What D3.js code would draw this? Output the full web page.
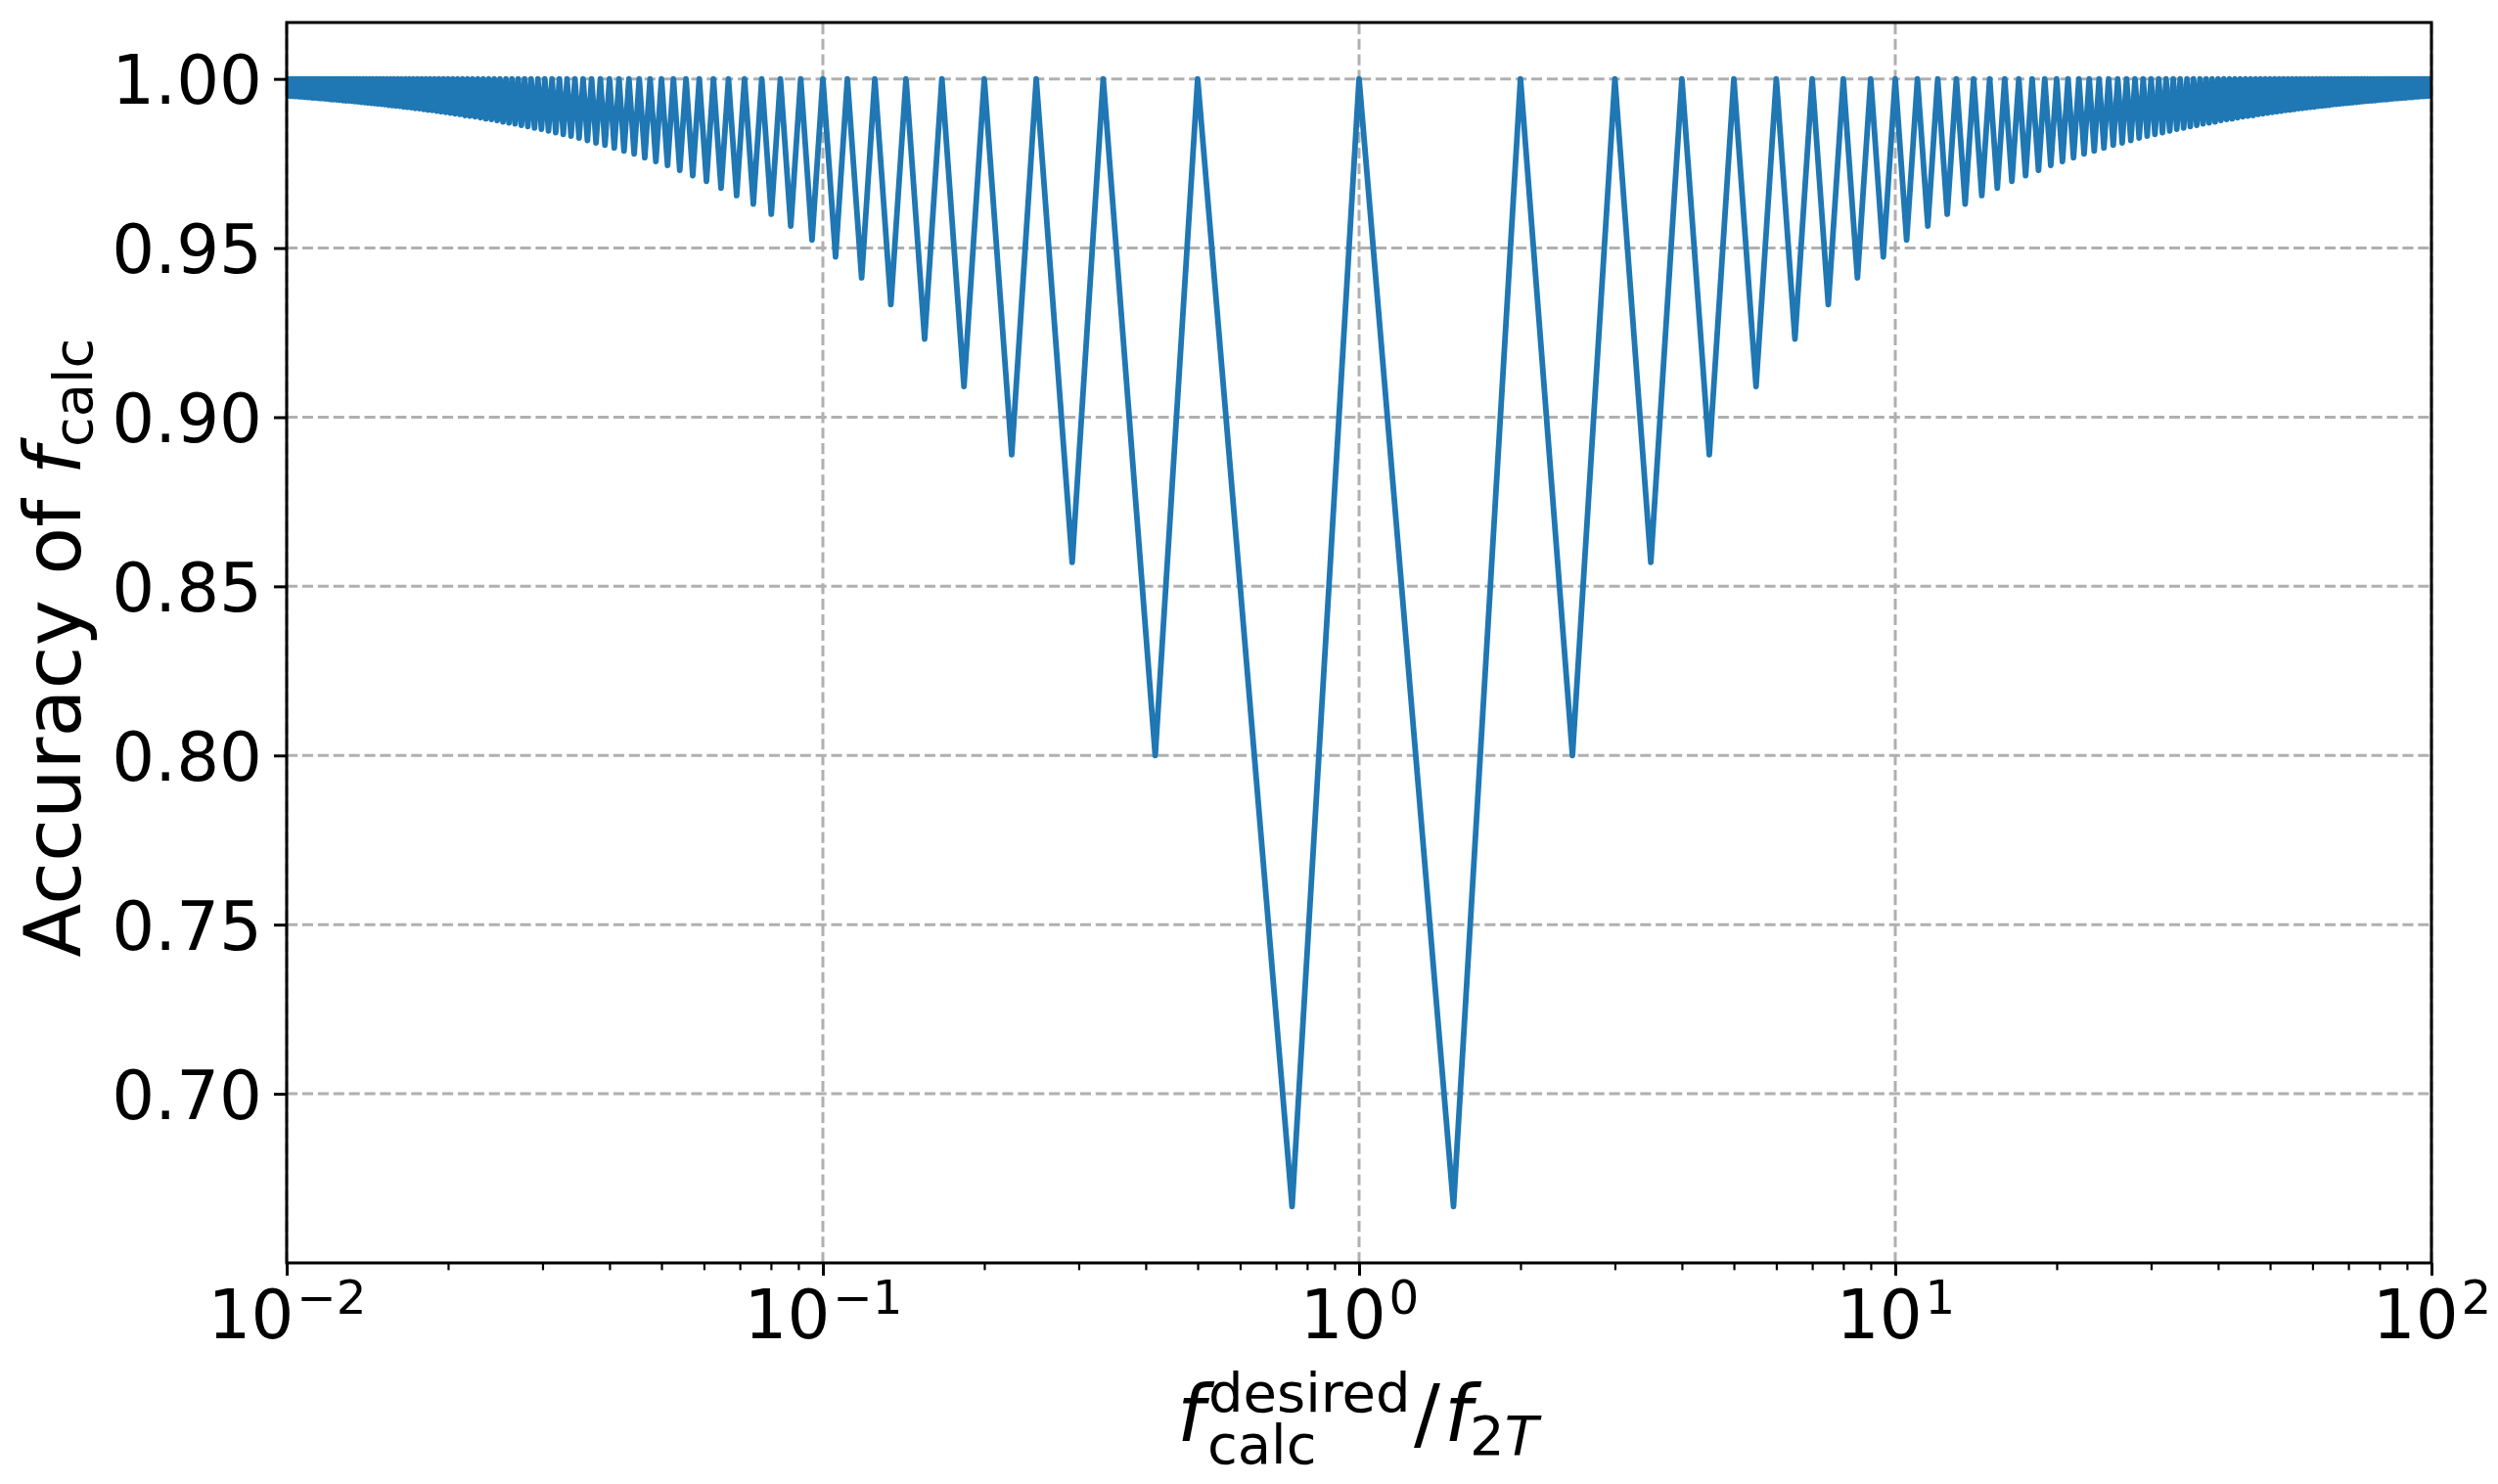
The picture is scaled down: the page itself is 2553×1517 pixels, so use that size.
<!DOCTYPE html>
<html><head><meta charset="utf-8">
<script src="https://cdn.jsdelivr.net/npm/d3@7"></script>
<style>
body{margin:0;background:#fff}
svg{display:block}
text{font-family:"DejaVu Sans",sans-serif;fill:#000}
</style>
</head><body>
<svg id="chart" width="2553" height="1517"></svg>
<script>
// ---------------- DATA ----------------
// Peaks (accuracy = 1.00) on the right of 10^0: at integer multiples
const rightPeakX = [1,2,3,4,5,6,7,8,9,10,11,12,13,14,15,16,17,18,19,20,
  21,22,23,24,25,26,27,28,29,30,31,32,33,34,35,36,37,38,39,40,
  41,42,43,44,45,46,47,48,49,50,51,52,53,54,55,56,57,58,59,60,
  61,62,63,64,65,66,67,68,69,70,71,72,73,74,75,76,77,78,79,80,
  81,82,83,84,85,86,87,88,89,90,91,92,93,94,95,96,97,98,99,100];
// Troughs on the right, halfway between peaks
const rightTroughX = [1.5,2.5,3.5,4.5,5.5,6.5,7.5,8.5,9.5,10.5,11.5,12.5,13.5,14.5,15.5,16.5,17.5,18.5,19.5,20.5,
  21.5,22.5,23.5,24.5,25.5,26.5,27.5,28.5,29.5,30.5,31.5,32.5,33.5,34.5,35.5,36.5,37.5,38.5,39.5,40.5,
  41.5,42.5,43.5,44.5,45.5,46.5,47.5,48.5,49.5,50.5,51.5,52.5,53.5,54.5,55.5,56.5,57.5,58.5,59.5,60.5,
  61.5,62.5,63.5,64.5,65.5,66.5,67.5,68.5,69.5,70.5,71.5,72.5,73.5,74.5,75.5,76.5,77.5,78.5,79.5,80.5,
  81.5,82.5,83.5,84.5,85.5,86.5,87.5,88.5,89.5,90.5,91.5,92.5,93.5,94.5,95.5,96.5,97.5,98.5,99.5];
// Peaks on the left of 10^0 (1, 1/2, 1/3, ...)
const leftPeakX = [1,0.5,0.3333,0.25,0.2,0.1667,0.1429,0.125,0.1111,0.1,
  0.09091,0.08333,0.07692,0.07143,0.06667,0.0625,0.05882,0.05556,0.05263,0.05,
  0.04762,0.04545,0.04348,0.04167,0.04,0.03846,0.03704,0.03571,0.03448,0.03333,
  0.03226,0.03125,0.0303,0.02941,0.02857,0.02778,0.02703,0.02632,0.02564,0.025,
  0.02439,0.02381,0.02326,0.02273,0.02222,0.02174,0.02128,0.02083,0.02041,0.02,
  0.01961,0.01923,0.01887,0.01852,0.01818,0.01786,0.01754,0.01724,0.01695,0.01667,
  0.01639,0.01613,0.01587,0.01563,0.01538,0.01515,0.01493,0.01471,0.01449,0.01429,
  0.01408,0.01389,0.0137,0.01351,0.01333,0.01316,0.01299,0.01282,0.01266,0.0125,
  0.01235,0.0122,0.01205,0.0119,0.01176,0.01163,0.01149,0.01136,0.01124,0.01111,
  0.01099,0.01087,0.01075,0.01064,0.01053,0.01042,0.01031,0.0102,0.0101,0.01];
// Troughs on the left, between consecutive left peaks
const leftTroughX = [0.75,0.4167,0.2917,0.225,0.1833,0.1548,0.1339,0.1181,0.1056,0.09545,
  0.08712,0.08013,0.07418,0.06905,0.06458,0.06066,0.05719,0.05409,0.05132,0.04881,
  0.04654,0.04447,0.04257,0.04083,0.03923,0.03775,0.03638,0.0351,0.03391,0.0328,
  0.03175,0.03078,0.02986,0.02899,0.02817,0.0274,0.02667,0.02598,0.02532,0.0247,
  0.0241,0.02353,0.02299,0.02247,0.02198,0.02151,0.02106,0.02062,0.0202,0.0198,
  0.01942,0.01905,0.01869,0.01835,0.01802,0.0177,0.01739,0.0171,0.01681,0.01653,
  0.01626,0.016,0.01575,0.0155,0.01527,0.01504,0.01482,0.0146,0.01439,0.01419,
  0.01399,0.01379,0.01361,0.01342,0.01325,0.01307,0.0129,0.01274,0.01258,0.01242,
  0.01227,0.01212,0.01198,0.01183,0.0117,0.01156,0.01143,0.0113,0.01117,0.01105,
  0.01093,0.01081,0.0107,0.01058,0.01047,0.01036,0.01026,0.01015,0.01005];
// Accuracy at the k-th trough (same on both sides)
const troughAccuracy = [0.6667,0.8,0.8571,0.8889,0.9091,0.9231,0.9333,0.9412,0.9474,0.9524,
  0.9565,0.96,0.963,0.9655,0.9677,0.9697,0.9714,0.973,0.9744,0.9756,
  0.9767,0.9778,0.9787,0.9796,0.9804,0.9811,0.9818,0.9825,0.9831,0.9836,
  0.9841,0.9846,0.9851,0.9855,0.9859,0.9863,0.9867,0.987,0.9873,0.9877,
  0.988,0.9882,0.9885,0.9888,0.989,0.9892,0.9895,0.9897,0.9899,0.9901,
  0.9903,0.9905,0.9907,0.9908,0.991,0.9912,0.9913,0.9915,0.9916,0.9917,
  0.9919,0.992,0.9921,0.9922,0.9924,0.9925,0.9926,0.9927,0.9928,0.9929,
  0.993,0.9931,0.9932,0.9933,0.9934,0.9935,0.9935,0.9936,0.9937,0.9938,
  0.9939,0.9939,0.994,0.9941,0.9942,0.9942,0.9943,0.9944,0.9944,0.9945,
  0.9945,0.9946,0.9947,0.9947,0.9948,0.9948,0.9949,0.9949,0.995];
const peakAccuracy = 1.0;

const xMajorTicks = [0.01, 0.1, 1, 10, 100];
const xTickExponents = ["\u22122", "\u22121", "0", "1", "2"];
const yTicks = [0.70, 0.75, 0.80, 0.85, 0.90, 0.95, 1.00];

// ---------------- LAYOUT ----------------
const P = {left: 293, right: 2485, top: 23, bottom: 1291};
const BLUE = "#1f77b4";
const TICK_FONT = 69, LABEL_FONT = 80;

const svg = d3.select("#chart");
const x = d3.scaleLog().domain([0.01, 100]).range([P.left, P.right]);
const y = d3.scaleLinear().domain([0.65, 1.016667]).range([P.bottom, P.top]);

// ---------------- points in order of x ----------------
const pts = [];
for (let i = leftPeakX.length - 1; i >= 0; i--) {
  pts.push([leftPeakX[i], peakAccuracy]);
  if (i > 0) pts.push([leftTroughX[i - 1], troughAccuracy[i - 1]]);
}
for (let j = 1; j < rightPeakX.length; j++) {
  pts.push([rightTroughX[j - 1], troughAccuracy[j - 1]]);
  pts.push([rightPeakX[j], peakAccuracy]);
}

// ---------------- grid ----------------
const grid = svg.append("g");
const dash = "11.1,4.8";
xMajorTicks.forEach(v => {
  grid.append("line").attr("x1", x(v)).attr("x2", x(v))
    .attr("y1", P.bottom).attr("y2", P.top)
    .attr("stroke", "#b0b0b0").attr("stroke-width", 3).attr("stroke-dasharray", dash);
});
yTicks.forEach(v => {
  grid.append("line").attr("x1", P.left).attr("x2", P.right)
    .attr("y1", y(v)).attr("y2", y(v))
    .attr("stroke", "#b0b0b0").attr("stroke-width", 3).attr("stroke-dasharray", dash);
});

// ---------------- curve ----------------
svg.append("clipPath").attr("id", "clip").append("rect")
  .attr("x", P.left).attr("y", P.top).attr("width", P.right - P.left).attr("height", P.bottom - P.top);
svg.append("path").datum(pts)
  .attr("clip-path", "url(#clip)")
  .attr("d", d3.line().x(d => x(d[0])).y(d => y(d[1])))
  .attr("fill", "none").attr("stroke", BLUE).attr("stroke-width", 5.8)
  .attr("stroke-linejoin", "round").attr("stroke-linecap", "butt");

// ---------------- axes ----------------
const minor = x.ticks().filter(v => Math.abs(Math.log10(v) - Math.round(Math.log10(v))) > 1e-9);
const xAxisMinor = d3.axisBottom(x).tickValues(minor).tickSize(7.4).tickFormat("").tickSizeOuter(0);
const gxm = svg.append("g").attr("transform", `translate(0,${P.bottom})`).call(xAxisMinor);
gxm.select(".domain").remove();
gxm.selectAll(".tick line").attr("stroke", "#000").attr("stroke-width", 2.2);

const xAxis = d3.axisBottom(x).tickValues(xMajorTicks).tickSize(13).tickSizeOuter(0).tickFormat("");
const gx = svg.append("g").attr("transform", `translate(0,${P.bottom})`).call(xAxis);
gx.select(".domain").remove();
gx.selectAll(".tick line").attr("stroke", "#000").attr("stroke-width", 3);
gx.selectAll(".tick").each(function(d, i) {
  const t = d3.select(this).append("text")
    .attr("x", 0).attr("y", 1368 - P.bottom)
    .attr("text-anchor", "middle").attr("font-size", TICK_FONT).attr("fill", "#000");
  t.append("tspan").text("10");
  t.append("tspan").attr("dx", 3).attr("dy", -25).attr("font-size", TICK_FONT * 0.7).text(xTickExponents[i]);
});

const yAxis = d3.axisLeft(y).tickValues(yTicks).tickSize(13).tickSizeOuter(0).tickFormat(d3.format(".2f"));
const gy = svg.append("g").attr("transform", `translate(${P.left},0)`).call(yAxis);
gy.select(".domain").remove();
gy.selectAll(".tick line").attr("stroke", "#000").attr("stroke-width", 3);
gy.selectAll(".tick text").attr("font-size", TICK_FONT).attr("font-family", "DejaVu Sans")
  .attr("x", -25).attr("dy", null).attr("y", 25.2).attr("fill", "#000");

// spines
svg.append("rect").attr("x", P.left).attr("y", P.top)
  .attr("width", P.right - P.left).attr("height", P.bottom - P.top)
  .attr("fill", "none").attr("stroke", "#000").attr("stroke-width", 3);

// ---------------- axis labels ----------------
// y label: Accuracy of f_calc
const yl = svg.append("text")
  .attr("transform", "translate(82,662) rotate(-90)")
  .attr("text-anchor", "middle").attr("font-size", LABEL_FONT);
yl.append("tspan").text("Accuracy of ");
yl.append("tspan").style("font-style", "italic").text("f");
yl.append("tspan").attr("dy", 12).attr("font-size", LABEL_FONT * 0.7).text("calc");

// x label: f_calc^desired / f_2T  (one text element, positioned pieces)
const xl = svg.append("text").attr("font-size", LABEL_FONT);
xl.append("tspan").attr("x", 1203).attr("y", 1473).style("font-style", "italic").text("f");
xl.append("tspan").attr("x", 1235).attr("y", 1443).attr("font-size", LABEL_FONT * 0.7).text("desired");
xl.append("tspan").attr("x", 1234).attr("y", 1496).attr("font-size", LABEL_FONT * 0.7).text("calc");
xl.append("tspan").attr("x", 1445).attr("y", 1473).text("/");
xl.append("tspan").attr("x", 1476).attr("y", 1473).style("font-style", "italic").text("f");
xl.append("tspan").attr("x", 1502).attr("y", 1487).attr("font-size", LABEL_FONT * 0.7).text("2");
xl.append("tspan").attr("y", 1487).attr("font-size", LABEL_FONT * 0.7).style("font-style", "italic").text("T");
</script>
</body></html>
